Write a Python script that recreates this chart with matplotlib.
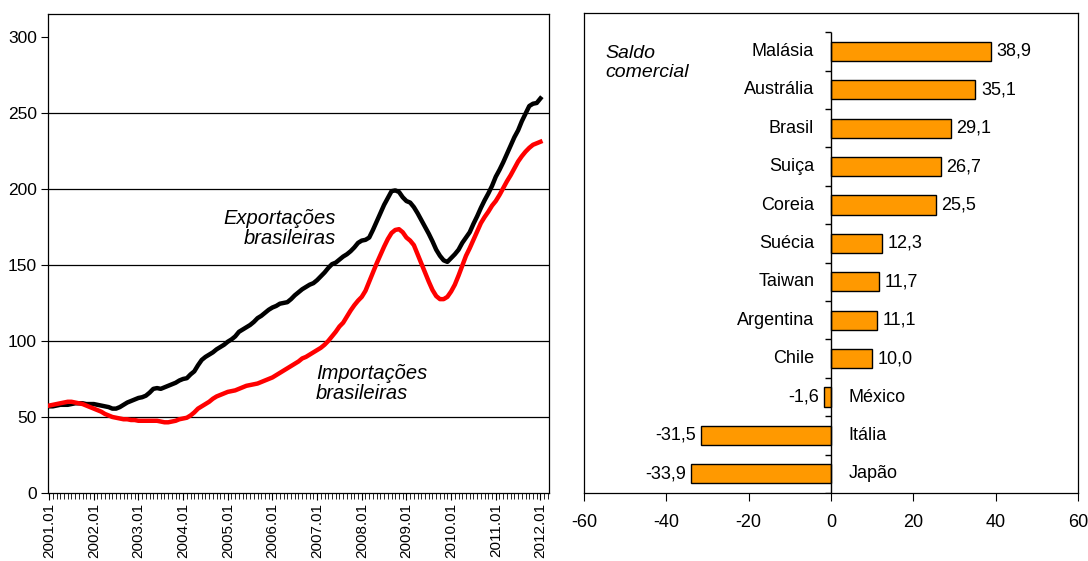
import numpy as np
import matplotlib.pyplot as plt

plt.rcParams['font.family'] = ['Liberation Sans', 'DejaVu Sans']
plt.rcParams['axes.unicode_minus'] = False

# Monthly series, 2001.01 - 2012.01 (US$ bilhões, acumulado 12 meses)
months = [f"{y}.{m:02d}" for y in range(2001, 2013) for m in range(1, 13)][:133]

exportacoes = [
    57, 57, 57.5, 58, 58, 58, 58.5, 59, 59, 59, 58.5, 58.5,
    58.5, 58, 57.5, 57, 56.5, 55.5, 55.5, 56.5, 58, 59.5, 60.5, 61.5,
    62.5, 63, 64, 66, 68.5, 69, 68.5, 69.5, 70.5, 71.5, 72.5, 74,
    75, 75.5, 78, 80, 84, 87.5, 89.5, 91, 92.5, 94.5, 96, 97.5,
    99.5, 101, 103, 106, 107.5, 109, 110.5, 112.5, 115, 116.5, 118.5, 120.5,
    122, 123, 124.5, 125, 125.5, 127.5, 130, 132, 134, 135.5, 137, 138,
    140, 142.5, 145, 148, 150.5, 151.5, 153.5, 155.5, 157, 159, 161.5, 164.5,
    166, 166.5, 168, 173, 178.5, 184, 189.5, 194, 198.5, 199, 198, 194.5,
    192, 191, 188, 184, 179.5, 175, 170.5, 165.5, 160, 156, 153, 152,
    154.5, 157, 160, 164.5, 168, 171.5, 177, 182, 187.5, 192.5, 197, 202,
    208, 212.5, 217.5, 223, 228.5, 234, 238.5, 244.5, 249.5, 254.5, 256, 256.5,
    259.5,
]

importacoes = [
    57.5, 58, 58.5, 59, 59.5, 60, 60, 59.5, 59, 58.5, 57.5, 56.5,
    55.5, 54.5, 53.5, 52, 51, 50, 49.5, 49, 48.5, 48.5, 48, 48,
    47.5, 47.5, 47.5, 47.5, 47.5, 47.5, 47, 46.5, 46.5, 47, 47.5, 48.5,
    49, 49.5, 51, 53, 55.5, 57, 58.5, 60, 62, 63.5, 64.5, 65.5,
    66.5, 67, 67.5, 68.5, 69.5, 70.5, 71, 71.5, 72, 73, 74, 75,
    76, 77.5, 79, 80.5, 82, 83.5, 85, 86.5, 88.5, 89.5, 91, 92.5,
    94, 95.5, 97.5, 100, 103, 106, 109.5, 112, 116, 120, 123.5, 126.5,
    129, 133, 139, 145, 151, 156.5, 162, 167, 171, 173, 173.5, 171.5,
    168, 166, 163, 157, 151, 145, 139, 133.5, 129.5, 127.5, 127.5, 129,
    132.5, 137, 143, 149.5, 156, 161, 166.5, 172, 177.5, 181.5, 185, 189,
    192, 196, 200.5, 205, 209, 213.5, 218, 221.5, 224.5, 227, 229, 230,
    231,
]

paises = ["Malásia", "Austrália", "Brasil", "Suiça", "Coreia", "Suécia",
          "Taiwan", "Argentina", "Chile", "México", "Itália", "Japão"]
saldo = [38.9, 35.1, 29.1, 26.7, 25.5, 12.3, 11.7, 11.1, 10.0, -1.6, -31.5, -33.9]

fig = plt.figure(figsize=(10.88, 5.61), dpi=100)

# ---- left: exports vs imports
ax1 = fig.add_axes([0.0441, 0.1212, 0.4605, 0.8538])
x = np.arange(len(months))
for v in [50, 100, 150, 200, 250]:
    ax1.axhline(v, color='black', lw=0.9, zorder=1)
ax1.plot(x, exportacoes, color='black', lw=3.2, zorder=3)
ax1.plot(x, importacoes, color='#ff0000', lw=3.2, zorder=3)
ax1.set_ylim(0, 315)
ax1.set_xlim(-0.3, 134.3)
ax1.set_yticks(range(0, 301, 50))
ax1.set_xticks(x[::12])
ax1.set_xticklabels(months[::12], rotation=90)
ax1.set_xticks(np.arange(0, 135), minor=True)
ax1.tick_params(axis='y', labelsize=12.5, length=5, pad=3)
ax1.tick_params(axis='x', which='major', labelsize=11, length=5, pad=2)
ax1.tick_params(axis='x', which='minor', length=4)
for s in ax1.spines.values():
    s.set_linewidth(0.9)

ax1.text(0.575, 0.552, "Exportações\nbrasileiras", transform=ax1.transAxes,
         ha='right', va='center', fontsize=14.5, style='italic', linespacing=1.1)
ax1.text(0.535, 0.229, "Importações\nbrasileiras", transform=ax1.transAxes,
         ha='left', va='center', fontsize=14.5, style='italic', linespacing=1.1)

# ---- right: trade balance by country
ax2 = fig.add_axes([0.5368, 0.1212, 0.454, 0.8556])
pos = np.arange(len(paises))[::-1]
ax2.barh(pos, saldo, height=0.5, color='#ff9900', edgecolor='black',
         linewidth=1, zorder=3)
ax2.set_xlim(-60, 60)
ax2.set_ylim(-0.5, 12.0)
ax2.set_xticks(range(-60, 61, 20))
ax2.set_yticks([])
ax2.tick_params(axis='x', labelsize=13, length=6, pad=9)
for s in ax2.spines.values():
    s.set_linewidth(0.9)

# category axis drawn at zero
ax2.vlines(0, -0.5, 11.5, color='black', lw=1, zorder=4)
ax2.hlines(np.arange(-0.5, 12, 1), -1.4, 0, color='black', lw=1, zorder=4)

for p, nome, v in zip(pos, paises, saldo):
    lbl = f"{v:.1f}".replace('.', ',')
    if v >= 0:
        ax2.text(-4.1, p, nome, ha='right', va='center', fontsize=13)
        ax2.annotate(lbl, (v, p), xytext=(4, 0), textcoords='offset points',
                     ha='left', va='center', fontsize=13)
    else:
        ax2.text(4.3, p, nome, ha='left', va='center', fontsize=13)
        ax2.annotate(lbl, (v, p), xytext=(-4, 0), textcoords='offset points',
                     ha='right', va='center', fontsize=13)

ax2.text(0.043, 0.896, "Saldo\ncomercial", transform=ax2.transAxes,
         ha='left', va='center', fontsize=14, style='italic', linespacing=1.1)

fig.savefig("out.png", dpi=100)
